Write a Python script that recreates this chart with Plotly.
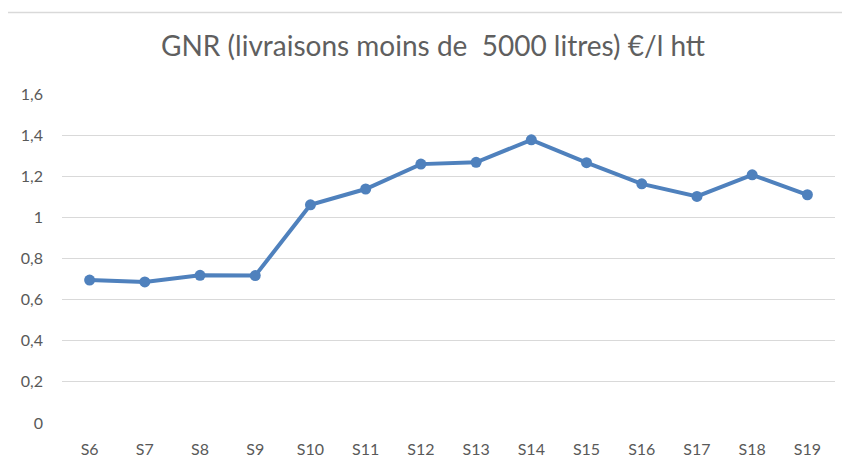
import plotly.graph_objects as go

weeks = ["S6", "S7", "S8", "S9", "S10", "S11", "S12", "S13", "S14", "S15", "S16", "S17", "S18", "S19"]
prices = [0.695, 0.686, 0.718, 0.717, 1.061, 1.138, 1.259, 1.268, 1.377, 1.266, 1.163, 1.102, 1.207, 1.110]
y_ticks = [0, 0.2, 0.4, 0.6, 0.8, 1.0, 1.2, 1.4, 1.6]
y_labels = ["0", "0,2", "0,4", "0,6", "0,8", "1", "1,2", "1,4", "1,6"]
title_text = "GNR (livraisons moins de&nbsp; 5000 litres) €/l htt"

# page body adds an 8px offset
OFF = 8
W, H = 850 - OFF, 469 - OFF
L, R, T, B = 62 - OFF, 15, 94 - OFF, 46

fig = go.Figure()
fig.add_trace(go.Scatter(
    x=weeks, y=prices, mode="lines+markers",
    line=dict(color="#4F81BD", width=4),
    marker=dict(color="#4F81BD", size=11),
    hoverinfo="skip", showlegend=False,
))

fig.update_layout(
    width=W, height=H,
    margin=dict(l=L, r=R, t=T, b=B),
    paper_bgcolor="white", plot_bgcolor="white",
    font=dict(family="Lato, Open Sans, sans-serif", color="#595959"),
    title=dict(text=title_text, x=((158 + 708) / 2 - OFF) / W, xanchor="center",
               y=1 - (46 - OFF) / H, yanchor="middle",
               font=dict(size=28, color="#5f5f5f")),
    xaxis=dict(type="category", showgrid=False, showline=False, zeroline=False,
               ticks="", tickfont=dict(size=16, color="#595959"),
               range=[-0.5, len(weeks) - 0.5], ticklabelstandoff=15),
    yaxis=dict(range=[0, 1.6], tickvals=y_ticks, ticktext=y_labels,
               showgrid=True, gridcolor="#d9d9d9", gridwidth=1.3,
               zeroline=False, showline=False, ticks="",
               tickfont=dict(size=16, color="#595959"), ticklabelstandoff=18),
    shapes=[dict(type="line", xref="paper", yref="paper",
                 x0=-(L - 0) / (W - L - R), x1=(W - L) / (W - L - R),
                 y0=1 + (T - (12.5 - OFF)) / (H - T - B), y1=1 + (T - (12.5 - OFF)) / (H - T - B),
                 line=dict(color="#d9d9d9", width=1.5))],
)

fig.write_html("out.html")
